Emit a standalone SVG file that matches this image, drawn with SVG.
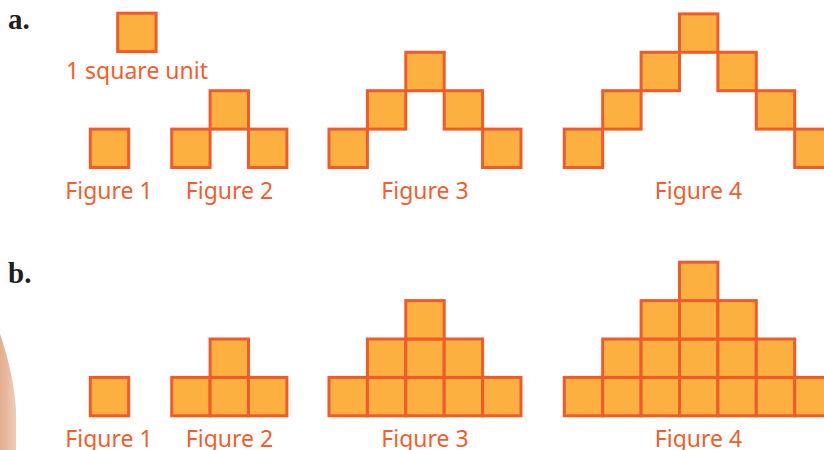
<svg xmlns="http://www.w3.org/2000/svg" xmlns:xlink="http://www.w3.org/1999/xlink" width="824" height="450" viewBox="0 0 824 450">
<style>
.sq{fill:#FBB040;stroke:#F15A2B;stroke-width:3}
.lbl{font-family:"Noto Sans","Open Sans",sans-serif;font-size:23px;fill:#F15F2E;text-anchor:middle}
.part{font-family:"Liberation Serif","Times New Roman",serif;font-weight:bold;font-size:29px;fill:#231F20}
</style>
<defs>
<rect id="c" class="sq" width="38.4" height="38.4"/>
<linearGradient id="skin" x1="0" y1="0" x2="1" y2="0">
<stop offset="0" stop-color="#e2ad8f"/>
<stop offset="1" stop-color="#efcdb8"/>
</linearGradient>
</defs>
<rect width="824" height="450" fill="#ffffff"/>
<path d="M0,334 C7,354 14,380 16,410 L16,450 L0,450 Z" fill="url(#skin)"/>
<text class="part" x="8" y="29">a.</text>
<text class="part" x="8" y="283">b.</text>
<g id="unit">
<use xlink:href="#c" x="117.7" y="13.2"/>
<text class="lbl" x="137" y="79">1 square unit</text>
</g>
<g id="a-fig1">
<use xlink:href="#c" x="90.3" y="129.1"/>
<text class="lbl" x="109" y="198.5">Figure 1</text>
</g>
<g id="a-fig2">
<use xlink:href="#c" x="171.7" y="129.1"/>
<use xlink:href="#c" x="210.1" y="90.7"/>
<use xlink:href="#c" x="248.5" y="129.1"/>
<text class="lbl" x="229.5" y="198.5">Figure 2</text>
</g>
<g id="a-fig3">
<use xlink:href="#c" x="329" y="129.1"/>
<use xlink:href="#c" x="367.4" y="90.7"/>
<use xlink:href="#c" x="405.8" y="52.3"/>
<use xlink:href="#c" x="444.2" y="90.7"/>
<use xlink:href="#c" x="482.6" y="129.1"/>
<text class="lbl" x="425" y="198.5">Figure 3</text>
</g>
<g id="a-fig4">
<use xlink:href="#c" x="564.3" y="129.1"/>
<use xlink:href="#c" x="602.7" y="90.7"/>
<use xlink:href="#c" x="641.1" y="52.3"/>
<use xlink:href="#c" x="679.5" y="13.9"/>
<use xlink:href="#c" x="717.9" y="52.3"/>
<use xlink:href="#c" x="756.3" y="90.7"/>
<use xlink:href="#c" x="794.7" y="129.1"/>
<text class="lbl" x="698.5" y="198.5">Figure 4</text>
</g>
<g id="b-fig1">
<use xlink:href="#c" x="90.3" y="377.4"/>
<text class="lbl" x="109" y="446.5">Figure 1</text>
</g>
<g id="b-fig2">
<use xlink:href="#c" x="171.7" y="377.4"/>
<use xlink:href="#c" x="210.1" y="377.4"/>
<use xlink:href="#c" x="248.5" y="377.4"/>
<use xlink:href="#c" x="210.1" y="339"/>
<text class="lbl" x="229.5" y="446.5">Figure 2</text>
</g>
<g id="b-fig3">
<use xlink:href="#c" x="329" y="377.4"/>
<use xlink:href="#c" x="367.4" y="377.4"/>
<use xlink:href="#c" x="405.8" y="377.4"/>
<use xlink:href="#c" x="444.2" y="377.4"/>
<use xlink:href="#c" x="482.6" y="377.4"/>
<use xlink:href="#c" x="367.4" y="339"/>
<use xlink:href="#c" x="405.8" y="339"/>
<use xlink:href="#c" x="444.2" y="339"/>
<use xlink:href="#c" x="405.8" y="300.6"/>
<text class="lbl" x="425" y="446.5">Figure 3</text>
</g>
<g id="b-fig4">
<use xlink:href="#c" x="564.3" y="377.4"/>
<use xlink:href="#c" x="602.7" y="377.4"/>
<use xlink:href="#c" x="641.1" y="377.4"/>
<use xlink:href="#c" x="679.5" y="377.4"/>
<use xlink:href="#c" x="717.9" y="377.4"/>
<use xlink:href="#c" x="756.3" y="377.4"/>
<use xlink:href="#c" x="794.7" y="377.4"/>
<use xlink:href="#c" x="602.7" y="339"/>
<use xlink:href="#c" x="641.1" y="339"/>
<use xlink:href="#c" x="679.5" y="339"/>
<use xlink:href="#c" x="717.9" y="339"/>
<use xlink:href="#c" x="756.3" y="339"/>
<use xlink:href="#c" x="641.1" y="300.6"/>
<use xlink:href="#c" x="679.5" y="300.6"/>
<use xlink:href="#c" x="717.9" y="300.6"/>
<use xlink:href="#c" x="679.5" y="262.2"/>
<text class="lbl" x="698.5" y="446.5">Figure 4</text>
</g>
<g id="connectors"/>
</svg>
